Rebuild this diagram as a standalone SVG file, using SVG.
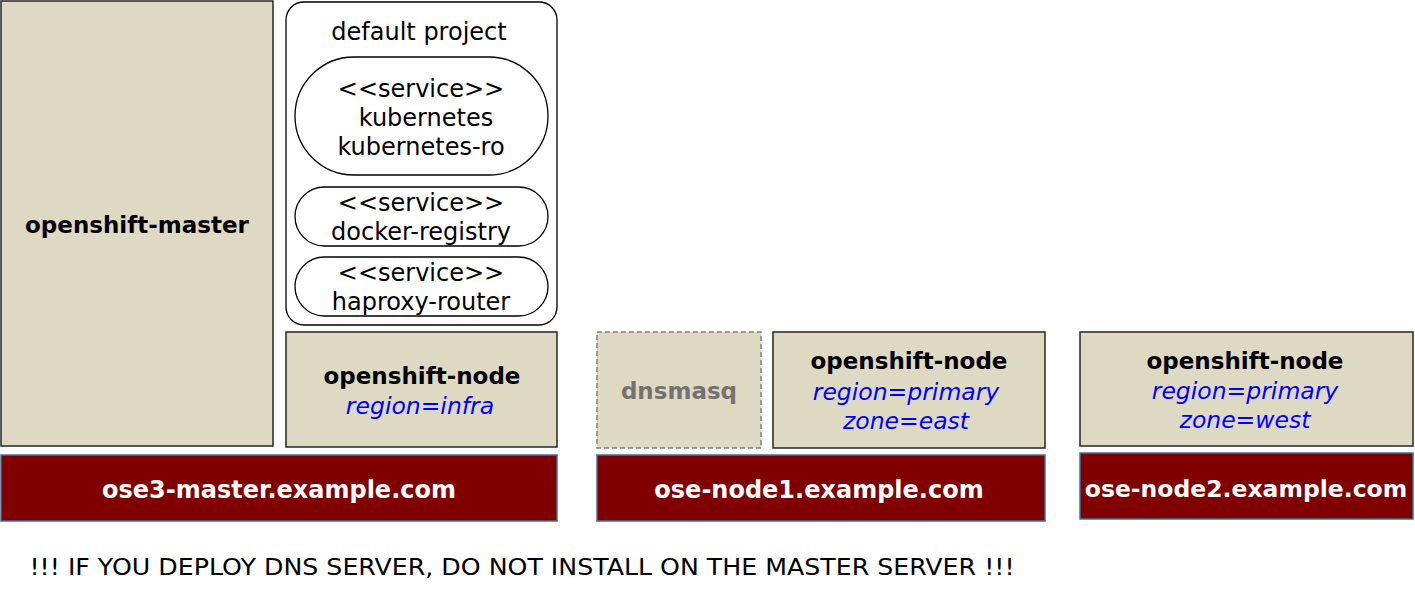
<svg xmlns="http://www.w3.org/2000/svg" width="1415" height="590" viewBox="0 0 1415 590">
<style>
text{font-family:"DejaVu Sans","Verdana",sans-serif;text-anchor:middle}
.beige{fill:#DDD9C3;stroke:#262626;stroke-width:1.5}
.host{fill:#800000;stroke:#41719C;stroke-width:1.5}
.svc{fill:#fff;stroke:#000;stroke-width:1.3}
.t{font-size:24px;fill:#000}
.b{font-size:23px;font-weight:bold;fill:#000}
.i{font-size:23.5px;font-style:italic;fill:#0000FF}
.h{font-size:24px;font-weight:bold;fill:#fff}
</style>
<rect width="1415" height="590" fill="#fff"/>
<g id="openshift-master">
<rect class="beige" x="1" y="1" width="272" height="445"/>
<text class="b" x="137" y="233">openshift-master</text>
</g>
<g id="default-project">
<rect x="286" y="2" width="271" height="323" rx="18" fill="#fff" stroke="#000" stroke-width="1.3"/>
<text class="t" x="419" y="40">default project</text>
</g>
<g id="svc-kubernetes">
<rect class="svc" x="295" y="57" width="253" height="118" rx="59"/>
<text class="t" x="421" y="97">&lt;&lt;service&gt;&gt;</text>
<text class="t" x="426" y="126">kubernetes</text>
<text class="t" x="421" y="155">kubernetes-ro</text>
</g>
<g id="svc-docker-registry">
<rect class="svc" x="295" y="187" width="253" height="59" rx="29.5"/>
<text class="t" x="421" y="211">&lt;&lt;service&gt;&gt;</text>
<text class="t" x="421" y="240">docker-registry</text>
</g>
<g id="svc-haproxy-router">
<rect class="svc" x="295" y="257" width="253" height="59" rx="29.5"/>
<text class="t" x="421" y="281">&lt;&lt;service&gt;&gt;</text>
<text class="t" x="421" y="310">haproxy-router</text>
</g>
<g id="node-infra">
<rect class="beige" x="286" y="332" width="271" height="115"/>
<text class="b" x="422" y="384">openshift-node</text>
<text class="i" x="420" y="414">region=infra</text>
</g>
<g id="ose3-master">
<rect class="host" x="1" y="455" width="556" height="66"/>
<text class="h" x="279" y="498">ose3-master.example.com</text>
</g>
<g id="dnsmasq">
<rect x="597" y="332" width="164" height="116" fill="#DDD9C3" stroke="#7F7F7F" stroke-width="1.5" stroke-dasharray="5,3"/>
<text class="b" x="679" y="399" style="fill:#767171">dnsmasq</text>
</g>
<g id="node-east">
<rect class="beige" x="773" y="332" width="272" height="116"/>
<text class="b" x="909" y="369">openshift-node</text>
<text class="i" x="906" y="400">region=primary</text>
<text class="i" x="906" y="429">zone=east</text>
</g>
<g id="ose-node1">
<rect class="host" x="597" y="455" width="448" height="66"/>
<text class="h" x="819" y="498">ose-node1.example.com</text>
</g>
<g id="node-west">
<rect class="beige" x="1080" y="332" width="333" height="114"/>
<text class="b" x="1245" y="369">openshift-node</text>
<text class="i" x="1245" y="399">region=primary</text>
<text class="i" x="1245" y="428">zone=west</text>
</g>
<g id="ose-node2">
<rect class="host" x="1080" y="453" width="333" height="66"/>
<text class="h" x="1246" y="497" style="font-size:23.5px">ose-node2.example.com</text>
</g>
<g id="connectors"></g>
<text class="t" x="522" y="575" style="font-size:23px" textLength="985" lengthAdjust="spacingAndGlyphs">!!! IF YOU DEPLOY DNS SERVER, DO NOT INSTALL ON THE MASTER SERVER !!!</text>
</svg>
